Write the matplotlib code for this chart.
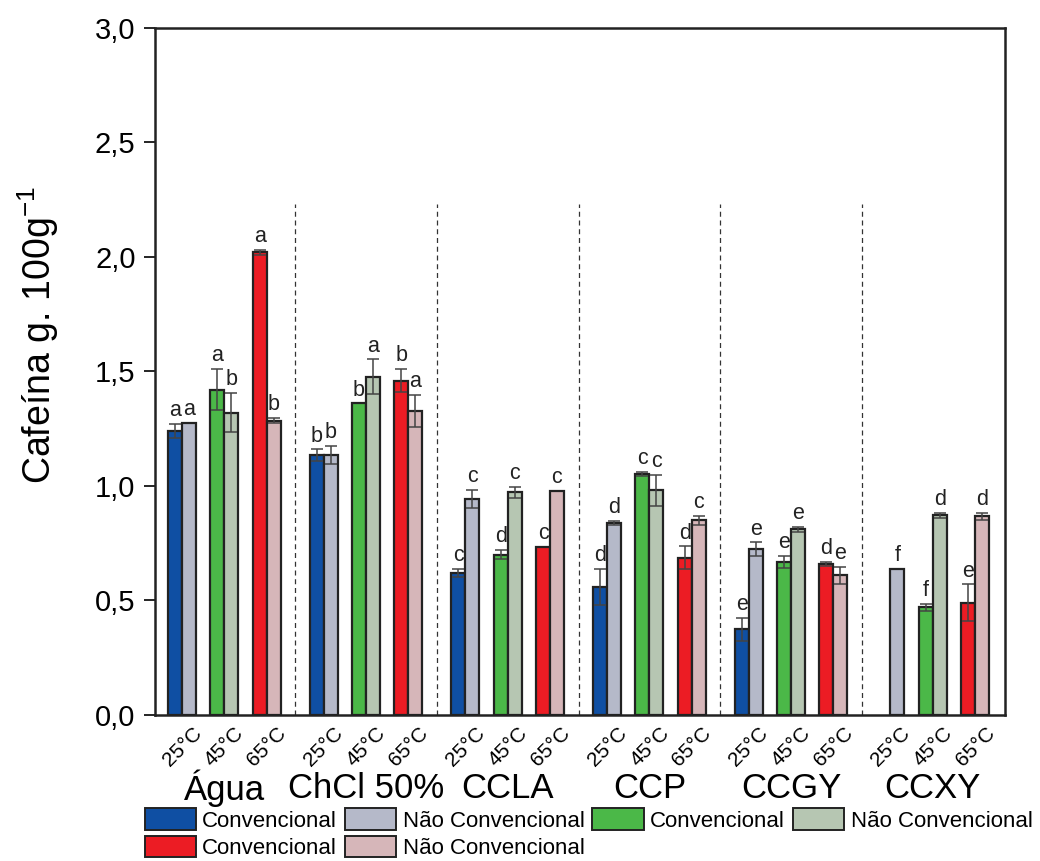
import numpy as np
import matplotlib.pyplot as plt
import matplotlib.transforms as mtransforms
from matplotlib.patches import Patch

plt.rcParams['font.family'] = ['Liberation Sans', 'DejaVu Sans']

groups = ['Água', 'ChCl 50%', 'CCLA', 'CCP', 'CCGY', 'CCXY']
temps = ['25°C', '45°C', '65°C']

# values per group, per temperature: (convencional, nao convencional)
conv = [[1.24, 1.42, 2.02],
        [1.135, 1.36, 1.46],
        [0.62, 0.70, 0.735],
        [0.56, 1.052, 0.686],
        [0.375, 0.668, 0.66],
        [np.nan, 0.47, 0.49]]
conv_err = [[0.03, 0.09, 0.01],
            [0.025, 0.0, 0.05],
            [0.017, 0.02, 0.0],
            [0.078, 0.01, 0.05],
            [0.05, 0.026, 0.01],
            [0.0, 0.016, 0.08]]
nconv = [[1.274, 1.32, 1.285],
         [1.135, 1.477, 1.328],
         [0.942, 0.972, 0.98],
         [0.838, 0.981, 0.85],
         [0.724, 0.81, 0.61],
         [0.639, 0.872, 0.867]]
nconv_err = [[0.0, 0.085, 0.012],
             [0.04, 0.076, 0.07],
             [0.04, 0.025, 0.0],
             [0.01, 0.068, 0.019],
             [0.03, 0.012, 0.038],
             [0.0, 0.01, 0.016]]
conv_letters = [['a', 'a', 'a'], ['b', 'b', 'b'], ['c', 'd', 'c'],
                ['d', 'c', 'd'], ['e', 'e', 'd'], ['', 'f', 'e']]
nconv_letters = [['a', 'b', 'b'], ['b', 'a', 'a'], ['c', 'c', 'c'],
                 ['d', 'c', 'c'], ['e', 'e', 'e'], ['f', 'd', 'd']]

conv_colors = ['#0F4FA3', '#4BB848', '#EC1C24']
nconv_colors = ['#B5B9C9', '#B6C6B2', '#D6B6B9']

fig = plt.figure(figsize=(10.4, 8.61), dpi=100)
ax = fig.add_axes([0.149, 0.1696, 0.817, 0.798])

gstep = 3.35
w = 0.33
edge = '#222222'
errc = '#444444'

centers = []
for g in range(len(groups)):
    for t in range(3):
        c = g * gstep + t
        centers.append(c)
        for k, (vals, errs, lets, cols) in enumerate(
                [(conv, conv_err, conv_letters, conv_colors),
                 (nconv, nconv_err, nconv_letters, nconv_colors)]):
            v = vals[g][t]
            if np.isnan(v):
                continue
            x = c - w / 2 if k == 0 else c + w / 2
            ax.bar(x, v, width=w, color=cols[t], edgecolor=edge, linewidth=1.6, zorder=2)
            e = errs[g][t]
            if e > 0:
                ax.errorbar(x, v, yerr=e, fmt='none', ecolor=errc, elinewidth=1.1,
                            capsize=4.5, capthick=1.1, zorder=3)
            ax.text(x, v + e + 0.012, lets[g][t], ha='center', va='bottom',
                    fontsize=15.5, color='#222222', zorder=4)

# dashed separators between groups
for g in range(len(groups) - 1):
    xs = (g * gstep + 2 + (g + 1) * gstep) / 2
    ax.plot([xs, xs], [0, 2.23], ls=(0, (4, 3)), color='#333333', lw=0.9, zorder=1)

ax.set_xlim(-0.64, (len(groups) - 1) * gstep + 2 + 0.7)
ax.set_ylim(0, 3.0)
ax.set_yticks(np.arange(0, 3.01, 0.5))
ax.set_yticklabels([f'{v:.1f}'.replace('.', ',') for v in np.arange(0, 3.01, 0.5)],
                   fontsize=21)
ax.tick_params(axis='y', direction='out', length=8, width=1.2, pad=6)

ax.set_xticks(centers)
ax.set_xticklabels(temps * len(groups), rotation=45, ha='right',
                   rotation_mode='anchor', fontsize=15)
ax.tick_params(axis='x', length=0, pad=6)
offset = mtransforms.ScaledTranslation(0.1, 0, fig.dpi_scale_trans)
for lab in ax.get_xticklabels():
    lab.set_transform(lab.get_transform() + offset)

for g, name in enumerate(groups):
    ax.text(g * gstep + 1, -0.32, name, ha='center', va='center', fontsize=25,
            transform=ax.transData)

for s in ax.spines.values():
    s.set_linewidth(1.8)
    s.set_color('#222222')

ax.set_ylabel('Cafeína g. 100g$^{\\mathregular{-1}}$', fontsize=27, va='center')
ax.yaxis.set_label_coords(-0.137, 0.553)

labels = ['Convencional', 'Não Convencional'] * 3
handles = []
for t in range(3):
    handles.append(Patch(facecolor=conv_colors[t], edgecolor=edge, linewidth=1.4))
    handles.append(Patch(facecolor=nconv_colors[t], edgecolor=edge, linewidth=1.4))
order = [0, 4, 1, 5, 2, 3]
fig.legend([handles[i] for i in order], [labels[i] for i in order],
           loc='upper left', bbox_to_anchor=(0.139, 0.061), ncol=4, frameon=False,
           fontsize=16, handlelength=2.3, handleheight=1.1, handletextpad=0.3,
           columnspacing=0.35, labelspacing=0.2, borderaxespad=0, borderpad=0)

fig.savefig('out.png', dpi=100)
